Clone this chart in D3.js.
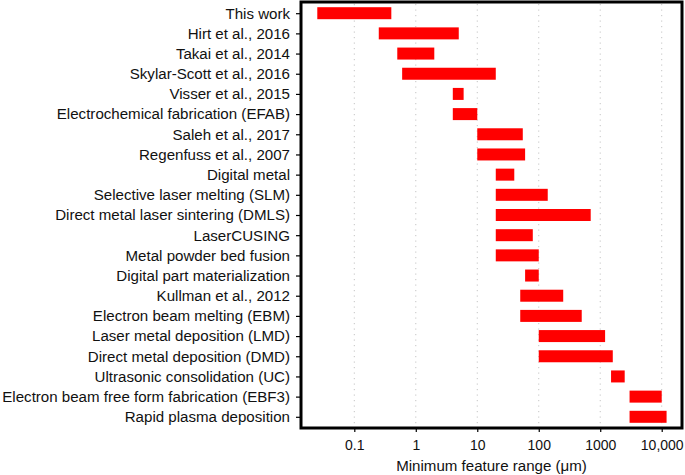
<!DOCTYPE html>
<html>
<head>
<meta charset="utf-8">
<script src="https://cdn.jsdelivr.net/npm/d3@7"></script>
<style>
  html, body { margin: 0; padding: 0; background: #fff; }
  svg { display: block; font-family: "Liberation Sans", Arial, Helvetica, sans-serif; }
</style>
</head>
<body>
<svg id="chart" width="685" height="475"></svg>
<script>
const categories = [
  "This work",
  "Hirt et al., 2016",
  "Takai et al., 2014",
  "Skylar-Scott et al., 2016",
  "Visser et al., 2015",
  "Electrochemical fabrication (EFAB)",
  "Saleh et al., 2017",
  "Regenfuss et al., 2007",
  "Digital metal",
  "Selective laser melting (SLM)",
  "Direct metal laser sintering (DMLS)",
  "LaserCUSING",
  "Metal powder bed fusion",
  "Digital part materialization",
  "Kullman et al., 2012",
  "Electron beam melting (EBM)",
  "Laser metal deposition (LMD)",
  "Direct metal deposition (DMD)",
  "Ultrasonic consolidation (UC)",
  "Electron beam free form fabrication (EBF3)",
  "Rapid plasma deposition"
];
const minValues = [0.025, 0.25, 0.5, 0.6, 4, 4, 10, 10, 20, 20, 20, 20, 20, 60, 50, 50, 100, 100, 1500, 3000, 3000];
const maxValues = [0.4, 5, 2, 20, 6, 10, 55, 60, 40, 140, 700, 80, 100, 100, 250, 500, 1200, 1600, 2500, 10000, 12000];
const tickValues = [0.1, 1, 10, 100, 1000, 10000];
const tickLabels = ["0.1", "1", "10", "100", "1000", "10,000"];
const xTitle = "Minimum feature range (\u03bcm)";

(function () {
const svg = d3.select("#chart");
const pLeft = 301, pRight = 682, pTop = 2, pBottom = 428;

const x = d3.scaleLog()
  .domain([Math.pow(10, -1.867), Math.pow(10, 4.33)])
  .range([pLeft, pRight]);
const y = d3.scalePoint()
  .domain(categories)
  .range([pTop, pBottom])
  .padding(0.555);

// grid
svg.append("g")
  .selectAll("line")
  .data(tickValues)
  .join("line")
  .attr("x1", d => x(d)).attr("x2", d => x(d))
  .attr("y1", pTop + 2).attr("y2", pBottom - 2)
  .attr("stroke", "#c4c4c4")
  .attr("stroke-width", 1)
  .attr("stroke-dasharray", "1.2,4.3");

// bars
const barH = 12;
svg.append("g")
  .selectAll("rect")
  .data(categories)
  .join("rect")
  .attr("x", (d, i) => x(minValues[i]))
  .attr("width", (d, i) => x(maxValues[i]) - x(minValues[i]))
  .attr("y", d => y(d) - barH / 2)
  .attr("height", barH)
  .attr("fill", "#ff0000");

// x axis
const xAxis = d3.axisBottom(x)
  .tickValues(tickValues)
  .tickFormat((d, i) => tickLabels[i])
  .tickSize(4)
  .tickPadding(8);
const gx = svg.append("g")
  .attr("transform", `translate(0,${pBottom})`)
  .call(xAxis);
gx.select(".domain").remove();
gx.selectAll("line").attr("stroke", "#000").attr("stroke-width", 1.2);
gx.selectAll("text").attr("font-size", 14).attr("fill", "#111");

// y axis
const yAxis = d3.axisLeft(y)
  .tickSize(5)
  .tickPadding(6);
const gy = svg.append("g")
  .attr("transform", `translate(${pLeft},0)`)
  .call(yAxis);
gy.select(".domain").remove();
gy.selectAll("line").attr("stroke", "#000").attr("stroke-width", 1.2);
gy.selectAll("text").attr("font-size", 15.1).attr("fill", "#111");

// frame
svg.append("rect")
  .attr("x", pLeft).attr("y", pTop)
  .attr("width", pRight - pLeft).attr("height", pBottom - pTop)
  .attr("fill", "none")
  .attr("stroke", "#000")
  .attr("stroke-width", 3);

// x title
svg.append("text")
  .attr("x", (pLeft + pRight) / 2)
  .attr("y", 471)
  .attr("text-anchor", "middle")
  .attr("font-size", 15.1)
  .attr("fill", "#111")
  .text(xTitle);
})();
</script>
</body>
</html>
